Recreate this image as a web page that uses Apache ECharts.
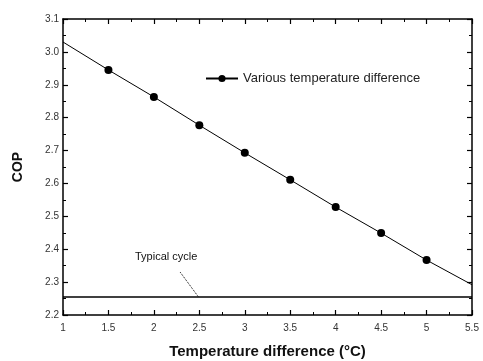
<!DOCTYPE html>
<html><head><meta charset="utf-8">
<script src="https://cdn.jsdelivr.net/npm/echarts@6/dist/echarts.min.js"></script>
<style>html,body{margin:0;padding:0;background:#fff}#c{width:483px;height:361px}</style>
</head><body><div id="c"></div>
<script>
// Data
const xTicks = [1, 1.5, 2, 2.5, 3, 3.5, 4, 4.5, 5, 5.5];
const variousX = [1, 1.5, 2, 2.5, 3, 3.5, 4, 4.5, 5, 5.5];
const variousCOP = [3.03, 2.945, 2.863, 2.777, 2.693, 2.611, 2.528, 2.449, 2.367, 2.292];
const markerShown = [false, true, true, true, true, true, true, true, true, false];
const typicalX = [1, 5.5];
const typicalCOP = [2.255, 2.255];
const legendName = 'Various temperature difference';
const typicalLabel = 'Typical cycle';

const chart = echarts.init(document.getElementById('c'));
const font = 'Liberation Sans, Arial, sans-serif';
const axisCommon = {
  axisLine: {show: true, lineStyle: {color: '#000', width: 1.5}},
  axisTick: {show: true, inside: true, length: 5, lineStyle: {color: '#000', width: 1.2}},
  minorTick: {show: true, splitNumber: 2, length: 3, lineStyle: {color: '#000', width: 1}},
  splitLine: {show: false}
};
const variousData = variousX.map((x, i) => ({
  value: [x, variousCOP[i]],
  symbol: markerShown[i] ? 'circle' : 'none'
}));
chart.setOption({
  animation: false,
  grid: {left: 63, right: 11, top: 19, bottom: 46, containLabel: false, outerBoundsMode: 'none'},
  legend: {
    data: [legendName],
    left: 200, top: 67,
    itemWidth: 32, itemHeight: 9, itemGap: 5,
    textStyle: {fontFamily: font, fontSize: 13, color: '#222'}
  },
  xAxis: [
    Object.assign({}, axisCommon, {
      type: 'value', min: 1, max: 5.5, interval: 0.5,
      name: 'Temperature difference (°C)', nameLocation: 'middle', nameGap: 29,
      nameTextStyle: {fontFamily: font, fontSize: 15, fontWeight: 'bold', color: '#111'},
      axisLabel: {fontFamily: font, fontSize: 10, color: '#333', margin: 8,
        formatter: v => String(Math.round(v * 10) / 10)}
    }),
    Object.assign({}, axisCommon, {
      type: 'value', min: 1, max: 5.5, interval: 0.5, position: 'top',
      axisLabel: {show: false}
    })
  ],
  yAxis: [
    Object.assign({}, axisCommon, {
      type: 'value', min: 2.2, max: 3.1, interval: 0.1,
      name: 'COP', nameLocation: 'middle', nameGap: 38,
      nameTextStyle: {fontFamily: font, fontSize: 14, fontWeight: 'bold', color: '#111'},
      axisLabel: {fontFamily: font, fontSize: 10, color: '#333', margin: 4,
        formatter: v => v.toFixed(1)}
    }),
    Object.assign({}, axisCommon, {
      type: 'value', min: 2.2, max: 3.1, interval: 0.1, position: 'right',
      axisLabel: {show: false}
    })
  ],
  series: [
    {
      name: legendName, type: 'line',
      data: variousData,
      symbol: 'circle', symbolSize: 8,
      lineStyle: {color: '#000', width: 1},
      itemStyle: {color: '#000'}
    },
    {
      name: 'Typical', type: 'line',
      data: typicalX.map((x, i) => [x, typicalCOP[i]]),
      symbol: 'none',
      lineStyle: {color: '#000', width: 1.5},
      markLine: {
        silent: true, symbol: ['none', 'none'],
        lineStyle: {color: '#000', width: 1, type: 'dotted'},
        label: {show: false},
        data: [[{coord: [2.29, 2.33]}, {coord: [2.49, 2.255]}]]
      }
    }
  ],
  graphic: [{
    type: 'text', left: 135, top: 251,
    style: {text: typicalLabel, font: '11px ' + font, fill: '#111'}
  }]
});
</script>
</body></html>
